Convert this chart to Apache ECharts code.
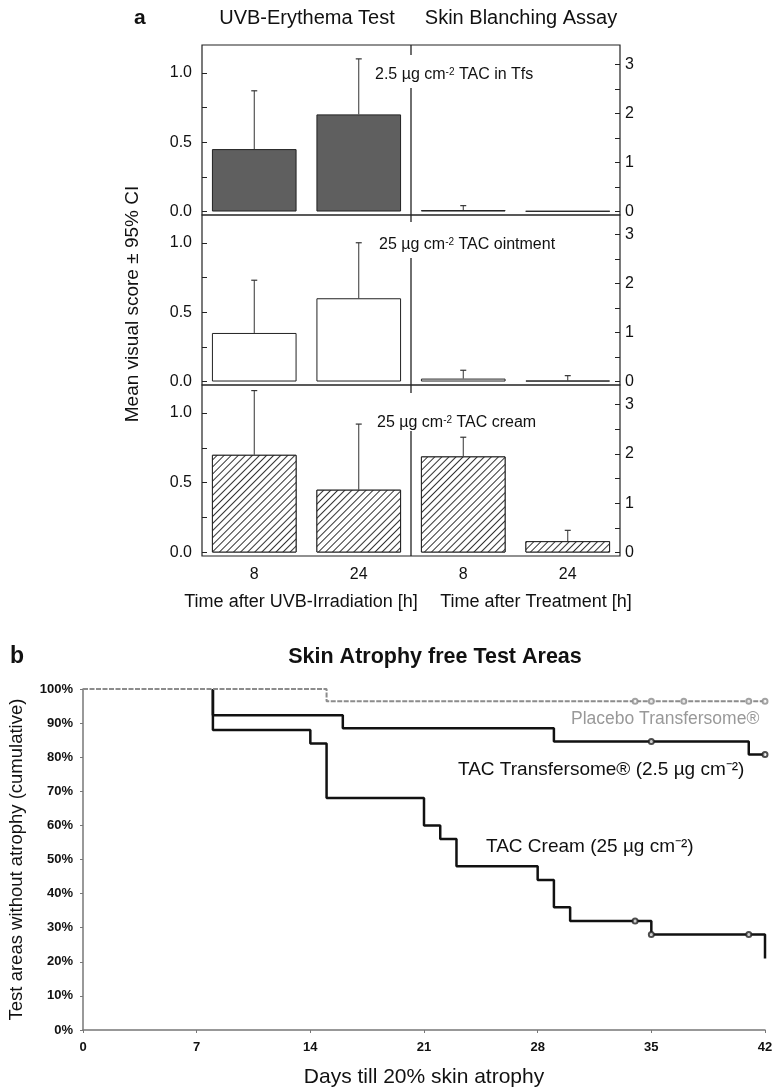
<!DOCTYPE html>
<html><head><meta charset="utf-8">
<script src="https://cdn.jsdelivr.net/npm/echarts@6/dist/echarts.min.js"></script>
<style>html,body{margin:0;padding:0;background:#fff}#c{width:773px;height:1091px}</style>
</head><body><div id="c"></div>
<script>
// ---------- Panel a data ----------
const categories = ['8', '24', '8', '24'];          // cat 0,1: UVB-erythema; cat 2,3: skin blanching
const panelLabels = ['2.5 µg cm', '25 µg cm', '25 µg cm'];
const panelLabelTails = [' TAC in Tfs', ' TAC ointment', ' TAC cream'];
// UVB-erythema test (left axis, 0–1 score): means and upper 95% CI
const tfsErythema = [0.45, 0.70];
const tfsErythemaUpper = [0.87, 1.10];
const ointErythema = [0.35, 0.60];
const ointErythemaUpper = [0.73, 1.00];
const creamErythema = [0.70, 0.45];
const creamErythemaUpper = [1.16, 0.92];
// Skin blanching assay (right axis, 0–3 score)
const tfsBlanch = [0.03, 0.01];
const tfsBlanchUpper = [0.12, null];
const ointBlanch = [0.06, 0.02];
const ointBlanchUpper = [0.23, 0.12];
const creamBlanch = [1.95, 0.23];
const creamBlanchUpper = [2.34, 0.45];
const leftTicks = [0, 0.25, 0.5, 0.75, 1.0];
const leftLabels = [0, 0.5, 1.0];
const rightTicks = [0, 0.5, 1, 1.5, 2, 2.5, 3];
const rightLabels = [0, 1, 2, 3];

// ---------- Panel b data (Kaplan–Meier, % free of atrophy) ----------
const placeboSteps = [[0, 100], [15, 96.4], [42, 96.4]];
const placeboCensored = [[34, 96.4], [35, 96.4], [37, 96.4], [41, 96.4], [42, 96.4]];
const tfsSteps = [[8, 100], [8, 92.3], [16, 88.5], [29, 84.6], [41, 80.8], [42, 80.8]];
const tfsCensored = [[35, 84.6], [42, 80.8]];
const creamSteps = [[8, 100], [8, 88], [14, 84], [15, 68], [21, 60], [22, 56], [23, 48], [28, 44], [29, 36], [30, 32], [35, 28], [42, 21]];
const creamCensored = [[34, 32], [35, 28], [41, 28]];

// ---------- build ----------
const FONT = 'Liberation Sans, Arial, sans-serif';
const chart = echarts.init(document.getElementById('c'), null, {renderer: 'canvas'});

const panels = [
  {ery: tfsErythema, eryU: tfsErythemaUpper, bl: tfsBlanch, blU: tfsBlanchUpper,
   style: {color: '#5f5f5f', borderColor: '#222', borderWidth: 1}},
  {ery: ointErythema, eryU: ointErythemaUpper, bl: ointBlanch, blU: ointBlanchUpper,
   style: {color: '#fff', borderColor: '#222', borderWidth: 1}},
  {ery: creamErythema, eryU: creamErythemaUpper, bl: creamBlanch, blU: creamBlanchUpper,
   style: {color: '#fff', borderColor: '#222', borderWidth: 1,
     decal: {symbol: 'rect', symbolSize: 1, dashArrayX: [[1, 0]], dashArrayY: [1, 4],
             rotation: -Math.PI / 4, color: '#333', backgroundColor: '#fff'}}}
];
const gridTops = [45, 215, 385];
const gridHeights = [170, 170, 171];

const grids = [], xAxes = [], yAxes = [], series = [];

function errRender(params, api) {
  const x = api.value(0), m = api.value(1), u = api.value(2);
  const p0 = api.coord([x, m]), p1 = api.coord([x, u]);
  const cap = 3;
  return {type: 'group', children: [
    {type: 'line', shape: {x1: p0[0], y1: p0[1], x2: p1[0], y2: p1[1]}, style: {stroke: '#333', lineWidth: 1}},
    {type: 'line', shape: {x1: p1[0] - cap, y1: p1[1], x2: p1[0] + cap, y2: p1[1]}, style: {stroke: '#333', lineWidth: 1.2}}
  ]};
}
function dividerRender(params, api) {
  const a = api.coord([1, 0]), b = api.coord([2, 0]);
  const x = (a[0] + b[0]) / 2;
  const cs = params.coordSys;
  return {type: 'line', shape: {x1: x, y1: cs.y, x2: x, y2: cs.y + cs.height}, style: {stroke: '#222', lineWidth: 1.3}};
}

panels.forEach((p, g) => {
  grids.push({left: 202, width: 418, top: gridTops[g], height: gridHeights[g], show: true,
              outerBoundsMode: 'none', containLabel: false,
              borderColor: '#222', borderWidth: 1.2, backgroundColor: 'transparent'});
  xAxes.push({type: 'category', gridIndex: g, data: categories, boundaryGap: true,
    axisLine: {show: false}, axisTick: {show: false},
    axisLabel: {show: g === 2, fontFamily: FONT, fontSize: 16, color: '#111', margin: 11}});
  yAxes.push({type: 'value', gridIndex: g, position: 'left', min: -0.025, max: 1.2,
    splitLine: {show: false}, axisLine: {show: false},
    axisTick: {show: true, inside: true, length: 5, customValues: leftTicks, lineStyle: {color: '#222'}},
    axisLabel: {customValues: leftLabels, fontFamily: FONT, fontSize: 16, color: '#111', margin: 10,
                formatter: v => v.toFixed(1)}});
  yAxes.push({type: 'value', gridIndex: g, position: 'right', min: -0.071, max: 3.40,
    splitLine: {show: false}, axisLine: {show: false},
    axisTick: {show: true, inside: true, length: 5, customValues: rightTicks, lineStyle: {color: '#222'}},
    axisLabel: {customValues: rightLabels, fontFamily: FONT, fontSize: 16, color: '#111', margin: 5}});
  series.push({type: 'bar', xAxisIndex: g, yAxisIndex: 2 * g, barWidth: '81%', barGap: '-100%',
    data: [p.ery[0], p.ery[1], '-', '-'], itemStyle: p.style, silent: true});
  series.push({type: 'bar', xAxisIndex: g, yAxisIndex: 2 * g + 1, barWidth: '81%', barGap: '-100%',
    data: ['-', '-', p.bl[0], p.bl[1]], itemStyle: p.style, silent: true});
  series.push({type: 'custom', xAxisIndex: g, yAxisIndex: 2 * g, renderItem: errRender, z: 5,
    data: p.ery.map((v, i) => [i, v, p.eryU[i]]).filter(d => d[2] != null)});
  series.push({type: 'custom', xAxisIndex: g, yAxisIndex: 2 * g + 1, renderItem: errRender, z: 5,
    data: p.bl.map((v, i) => [i + 2, v, p.blU[i]]).filter(d => d[2] != null)});
  series.push({type: 'custom', xAxisIndex: g, yAxisIndex: 2 * g, renderItem: dividerRender, z: 6,
    data: [[0, 0]]});
});

// Panel b grid
grids.push({left: 83, right: 8, top: 689, bottom: 61, show: false, outerBoundsMode: 'none', containLabel: false});
xAxes.push({type: 'value', gridIndex: 3, min: 0, max: 42, interval: 7,
  name: 'Days till 20% skin atrophy', nameLocation: 'middle', nameGap: 37,
  nameTextStyle: {fontFamily: FONT, fontSize: 21, color: '#111'},
  splitLine: {show: false},
  axisLine: {lineStyle: {color: '#777', width: 1.5}},
  axisTick: {length: 3, lineStyle: {color: '#777'}},
  axisLabel: {fontFamily: FONT, fontSize: 13, fontWeight: 'bold', color: '#111', margin: 11}});
yAxes.push({type: 'value', gridIndex: 3, min: 0, max: 100, interval: 10,
  name: 'Test areas without atrophy (cumulative)', nameLocation: 'middle', nameGap: 57,
  nameTextStyle: {fontFamily: FONT, fontSize: 18.5, color: '#111'},
  splitLine: {show: false},
  axisLine: {lineStyle: {color: '#777', width: 1.5}},
  axisTick: {length: 3, lineStyle: {color: '#777'}},
  axisLabel: {fontFamily: FONT, fontSize: 13, fontWeight: 'bold', color: '#111', margin: 10, formatter: '{value}%'}});

series.push({type: 'line', xAxisIndex: 3, yAxisIndex: 6, step: 'end', symbol: 'none', data: creamSteps,
  lineStyle: {color: '#111', width: 2.5}, z: 3, silent: true});
series.push({type: 'line', xAxisIndex: 3, yAxisIndex: 6, step: 'end', symbol: 'none', data: tfsSteps,
  lineStyle: {color: '#111', width: 2.5}, z: 3, silent: true});
series.push({type: 'line', xAxisIndex: 3, yAxisIndex: 6, step: 'end', symbol: 'none', data: placeboSteps,
  lineStyle: {color: '#8c8c8c', width: 2, type: [5, 1.5]}, z: 4, silent: true});
series.push({type: 'scatter', xAxisIndex: 3, yAxisIndex: 6, symbol: 'emptyCircle', symbolSize: 5,
  data: placeboCensored, itemStyle: {color: '#8c8c8c', borderWidth: 1.2}, z: 6, silent: true});
series.push({type: 'scatter', xAxisIndex: 3, yAxisIndex: 6, symbol: 'emptyCircle', symbolSize: 5,
  data: tfsCensored.concat(creamCensored), itemStyle: {color: '#222', borderWidth: 1.2}, z: 6, silent: true});

function txt(text, x, y, opts) {
  return {type: 'text', z: 100, style: Object.assign({text: text, x: x, y: y,
    font: '15px ' + FONT, fill: '#111', align: 'left', verticalAlign: 'middle'}, opts || {})};
}
const annTop = [55, 222, 393];
const annX = [373, 377, 375];
const annPad = [[12, 2, 5, 2], [15, 2, 5, 2], [22, 2, 0, 2]];
const graphics = [
  txt('a', 134, 18, {font: 'bold 21px ' + FONT}),
  txt('UVB-Erythema Test', 307, 18, {font: '20px ' + FONT, align: 'center'}),
  txt('Skin Blanching Assay', 521, 18, {font: '20px ' + FONT, align: 'center'}),
  txt('Time after UVB-Irradiation [h]', 301, 602, {font: '18px ' + FONT, align: 'center'}),
  txt('Time after Treatment [h]', 536, 602, {font: '18px ' + FONT, align: 'center'}),
  {type: 'text', z: 100, rotation: Math.PI / 2, x: 133, y: 304, style: {text: 'Mean visual score ± 95% CI',
      x: 0, y: 0, font: '19px ' + FONT, fill: '#111', align: 'center', verticalAlign: 'middle'}},
  txt('b', 10, 657, {font: 'bold 23px ' + FONT}),
  txt('Skin Atrophy free Test Areas', 435, 657, {font: 'bold 21.5px ' + FONT, align: 'center'}),
  txt('Placebo Transfersome®', 571, 719, {font: '17.5px ' + FONT, fill: '#999'}),
  txt('TAC Transfersome® (2.5 µg cm⁻²)', 458, 770, {font: '19px ' + FONT}),
  txt('TAC Cream (25 µg cm⁻²)', 486, 847, {font: '19px ' + FONT})
];
panelLabels.forEach((s, i) => {
  graphics.push({type: 'text', z: 100, x: annX[i], y: annTop[i], style: {
    text: '{n|' + s + '}{s|-2}{n|' + panelLabelTails[i] + '}',
    rich: {n: {font: '16px ' + FONT, fill: '#111'}, s: {font: '10px ' + FONT, fill: '#111', verticalAlign: 'top'}},
    align: 'left', verticalAlign: 'top', backgroundColor: '#fff', padding: annPad[i]}});
});

chart.setOption({
  animation: false,
  backgroundColor: '#fff',
  textStyle: {fontFamily: FONT},
  grid: grids, xAxis: xAxes, yAxis: yAxes, series: series, graphic: graphics
});
</script></body></html>
